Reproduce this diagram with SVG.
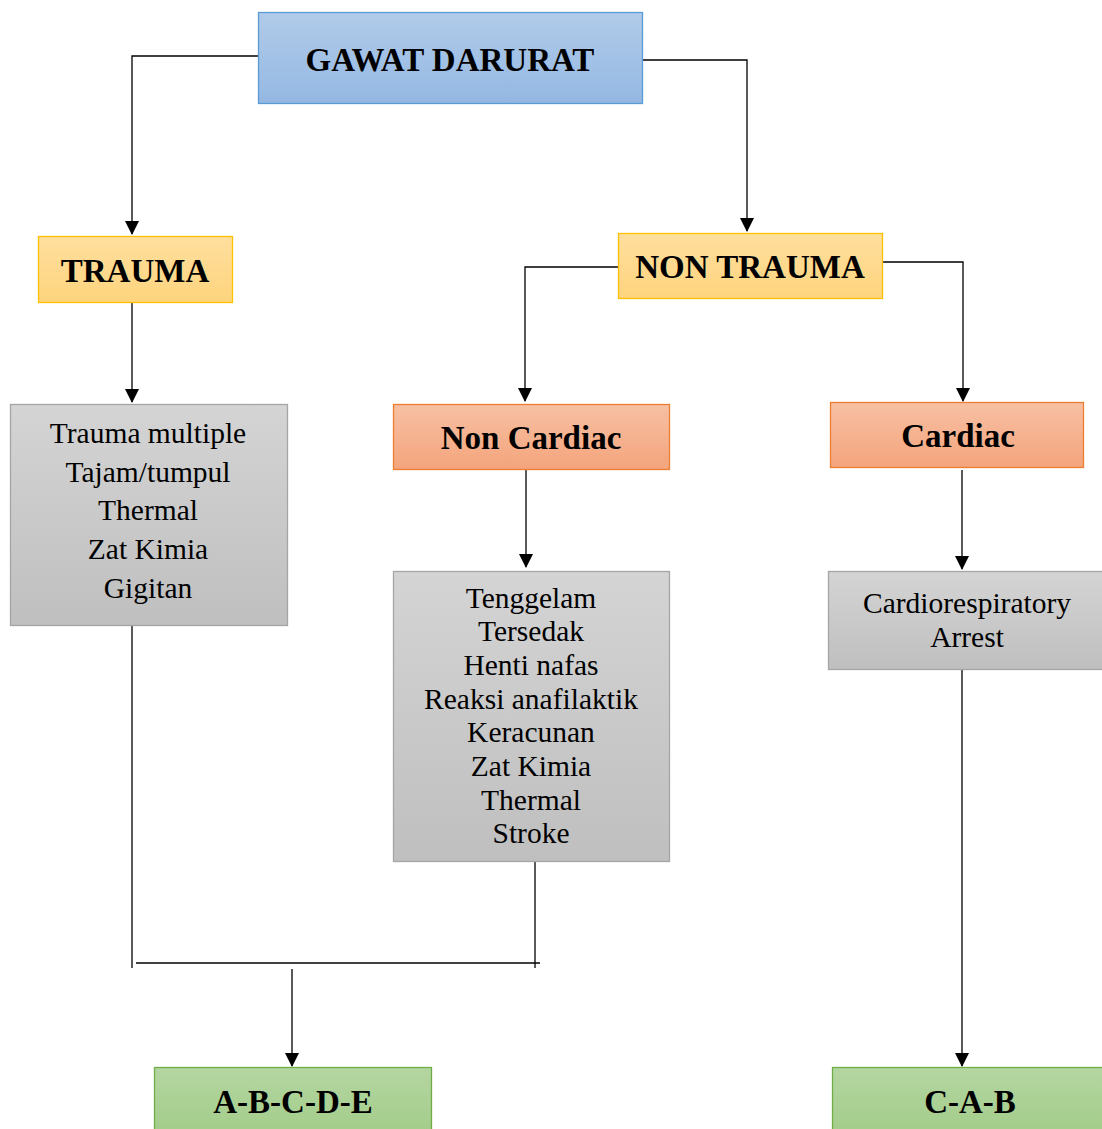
<svg xmlns="http://www.w3.org/2000/svg" width="1102" height="1129" viewBox="0 0 1102 1129">
<defs>
<linearGradient id="gBlue" x1="0" y1="0" x2="0" y2="1"><stop offset="0" stop-color="#b1cbe9"/><stop offset="1" stop-color="#94b8e3"/></linearGradient>
<linearGradient id="gYellow" x1="0" y1="0" x2="0" y2="1"><stop offset="0" stop-color="#ffdf9e"/><stop offset="1" stop-color="#fed47d"/></linearGradient>
<linearGradient id="gSalmon" x1="0" y1="0" x2="0" y2="1"><stop offset="0" stop-color="#f7c0a3"/><stop offset="1" stop-color="#f4a47c"/></linearGradient>
<linearGradient id="gGray" x1="0" y1="0" x2="0" y2="1"><stop offset="0" stop-color="#d4d4d4"/><stop offset="1" stop-color="#bfbfbf"/></linearGradient>
<linearGradient id="gGreen" x1="0" y1="0" x2="0" y2="1"><stop offset="0" stop-color="#b4d6a2"/><stop offset="1" stop-color="#a2cc88"/></linearGradient>
<marker id="arr" markerWidth="14" markerHeight="14" refX="13" refY="7" orient="auto" markerUnits="userSpaceOnUse"><path d="M0,0 L14,7 L0,14 Z" fill="#000"/></marker>
</defs>
<style>
.t{font-family:"Liberation Serif","Times New Roman",serif;fill:#000;text-anchor:middle}
.b{font-weight:bold;font-size:33px}
.r{font-size:29.5px}
.c{fill:none;stroke:#000;stroke-width:1.3}
.blue{fill:url(#gBlue);stroke:#5b9bd5;stroke-width:1.3}
.yel{fill:url(#gYellow);stroke:#ffc000;stroke-width:1.3}
.sal{fill:url(#gSalmon);stroke:#ed7d31;stroke-width:1.3}
.gry{fill:url(#gGray);stroke:#a5a5a5;stroke-width:1.3}
.grn{fill:url(#gGreen);stroke:#70ad47;stroke-width:1.3}
</style>
<g id="connectors">
<path class="c" d="M258,56 H132 V234" marker-end="url(#arr)"/>
<path class="c" d="M642,60 H747 V231" marker-end="url(#arr)"/>
<path class="c" d="M132,302 V402" marker-end="url(#arr)"/>
<path class="c" d="M618,267 H525 V401" marker-end="url(#arr)"/>
<path class="c" d="M882,262 H963 V401" marker-end="url(#arr)"/>
<path class="c" d="M526,469 V567" marker-end="url(#arr)"/>
<path class="c" d="M962,470 V569" marker-end="url(#arr)"/>
<path class="c" d="M132,625 V968"/>
<path class="c" d="M535,861 V968"/>
<path class="c" d="M136,963 H540"/>
<path class="c" d="M292,969 V1066" marker-end="url(#arr)"/>
<path class="c" d="M962,669 V1066" marker-end="url(#arr)"/>
</g>
<g id="gawat-darurat"><rect class="blue" x="258.5" y="12.5" width="384" height="91"/><text class="t b" x="450" y="71">GAWAT DARURAT</text></g>
<g id="trauma"><rect class="yel" x="38.5" y="236.5" width="194" height="66"/><text class="t b" x="135" y="282">TRAUMA</text></g>
<g id="non-trauma"><rect class="yel" x="618.5" y="233.5" width="264" height="65"/><text class="t b" x="750" y="278">NON TRAUMA</text></g>
<g id="trauma-list"><rect class="gry" x="10.5" y="404.5" width="277" height="221"/>
<text class="t r" x="148" y="443">Trauma multiple</text>
<text class="t r" x="148" y="482">Tajam/tumpul</text>
<text class="t r" x="148" y="520">Thermal</text>
<text class="t r" x="148" y="559">Zat Kimia</text>
<text class="t r" x="148" y="598">Gigitan</text></g>
<g id="non-cardiac"><rect class="sal" x="393.5" y="404.5" width="276" height="65"/><text class="t b" x="531" y="449">Non Cardiac</text></g>
<g id="cardiac"><rect class="sal" x="830.5" y="402.5" width="253" height="65"/><text class="t b" x="958" y="447">Cardiac</text></g>
<g id="non-cardiac-list"><rect class="gry" x="393.5" y="571.5" width="276" height="290"/>
<text class="t r" x="531" y="608">Tenggelam</text>
<text class="t r" x="531" y="641">Tersedak</text>
<text class="t r" x="531" y="675">Henti nafas</text>
<text class="t r" x="531" y="709">Reaksi anafilaktik</text>
<text class="t r" x="531" y="742">Keracunan</text>
<text class="t r" x="531" y="776">Zat Kimia</text>
<text class="t r" x="531" y="810">Thermal</text>
<text class="t r" x="531" y="843">Stroke</text></g>
<g id="cardiorespiratory"><rect class="gry" x="828.5" y="571.5" width="280" height="98"/>
<text class="t r" x="967" y="613">Cardiorespiratory</text>
<text class="t r" x="967" y="647">Arrest</text></g>
<g id="abcde"><rect class="grn" x="154.5" y="1067.5" width="277" height="70"/><text class="t b" x="293" y="1113">A-B-C-D-E</text></g>
<g id="cab"><rect class="grn" x="832.5" y="1067.5" width="280" height="70"/><text class="t b" x="970" y="1113">C-A-B</text></g>
</svg>
